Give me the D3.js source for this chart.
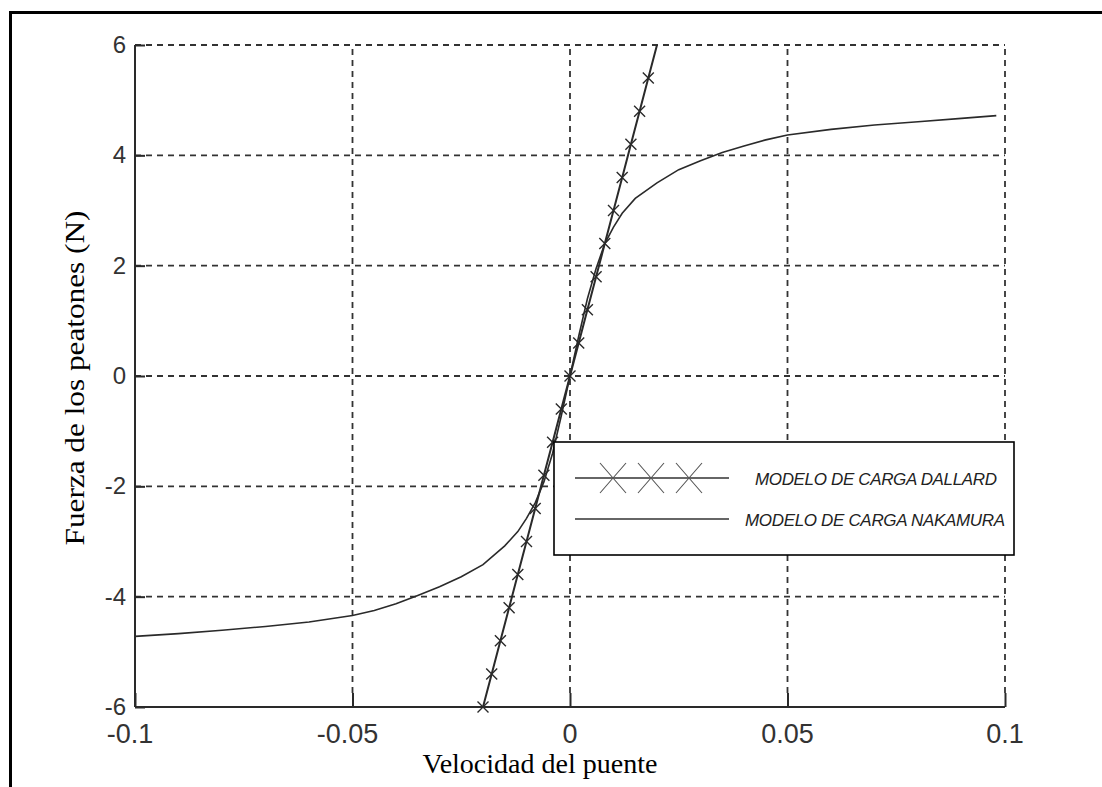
<!DOCTYPE html>
<html>
<head>
<meta charset="utf-8">
<script src="https://cdn.jsdelivr.net/npm/d3@7"></script>
<style>
  html, body { margin: 0; padding: 0; background: #fff; }
  svg { display: block; }
</style>
</head>
<body>
<svg id="chart" width="1102" height="787"></svg>
<script>
// ---- data ----
const xTicks = [-0.1, -0.05, 0, 0.05, 0.1];
const xTickLabels = ["-0.1", "-0.05", "0", "0.05", "0.1"];
const yTicks = [6, 4, 2, 0, -2, -4, -6];
const yTickLabels = ["6", "4", "2", "0", "-2", "-4", "-6"];

// Dallard load model (linear)
const dallardV = [-0.02, -0.018, -0.016, -0.014, -0.012, -0.01, -0.008, -0.006, -0.004, -0.002, 0,
                  0.002, 0.004, 0.006, 0.008, 0.01, 0.012, 0.014, 0.016, 0.018, 0.02];
const dallardF = [-6, -5.4, -4.8, -4.2, -3.6, -3, -2.4, -1.8, -1.2, -0.6, 0,
                  0.6, 1.2, 1.8, 2.4, 3, 3.6, 4.2, 4.8, 5.4, 6];

// Nakamura load model (saturating)
const nakamuraV = [-0.1, -0.09, -0.08, -0.07, -0.06, -0.05, -0.045, -0.04, -0.035, -0.03, -0.025, -0.02,
                   -0.015, -0.012, -0.01, -0.008, -0.006, -0.004, -0.002, 0,
                   0.002, 0.004, 0.006, 0.008, 0.01, 0.012, 0.015, 0.02, 0.025, 0.03, 0.035, 0.04,
                   0.045, 0.05, 0.06, 0.07, 0.08, 0.09, 0.098];
const nakamuraF = [-4.72, -4.67, -4.61, -4.54, -4.46, -4.34, -4.25, -4.13, -3.98, -3.82, -3.64, -3.42,
                   -3.08, -2.82, -2.58, -2.3, -1.92, -1.4, -0.72, 0,
                   0.72, 1.4, 1.95, 2.4, 2.7, 2.95, 3.22, 3.5, 3.74, 3.9, 4.05, 4.17,
                   4.28, 4.37, 4.47, 4.55, 4.61, 4.67, 4.72];

const legendLabels = ["MODELO DE CARGA DALLARD", "MODELO DE CARGA NAKAMURA"];
const xTitle = "Velocidad del puente";
const yTitle = "Fuerza de los peatones (N)";

(function () {
// ---- layout ----
const svg = d3.select("#chart");
const pL = 135, pR = 1005, pT = 45, pB = 707;
const x = d3.scaleLinear().domain([-0.1, 0.1]).range([pL, pR]);
const y = d3.scaleLinear().domain([-6, 6]).range([pB, pT]);
const ink = "#2a2a2a";

// outer frame (top and left edges)
svg.append("path")
  .attr("d", "M10.5,787 L10.5,12.5 L1102,12.5")
  .attr("fill", "none").attr("stroke", "#000").attr("stroke-width", 3);

// grid
const grid = svg.append("g").attr("stroke", "#333").attr("stroke-width", 1.8)
  .attr("stroke-dasharray", "6,5").attr("fill", "none");
grid.selectAll("line.gx").data(xTicks.filter(d => d !== -0.1)).join("line")
  .attr("x1", d => x(d)).attr("x2", d => x(d)).attr("y1", pB - 14).attr("y2", pT);
grid.selectAll("line.gy").data(yTicks.filter(d => d !== -6)).join("line")
  .attr("y1", d => y(d)).attr("y2", d => y(d)).attr("x1", pL).attr("x2", pR);

// axes (bottom + left), ticks inside
const xAxis = d3.axisBottom(x).tickValues(xTicks).tickSize(-14).tickFormat("");
const yAxis = d3.axisLeft(y).tickValues(yTicks).tickSize(-10).tickFormat("");
const gx = svg.append("g").attr("transform", `translate(0,${pB})`).call(xAxis);
const gy = svg.append("g").attr("transform", `translate(${pL},0)`).call(yAxis);
gx.select(".domain").attr("stroke", ink).attr("stroke-width", 2).attr("d", `M${pL},0H${pR}`);
gy.select(".domain").attr("stroke", ink).attr("stroke-width", 2).attr("d", `M0,${pB}V${pT}`);
[gx, gy].forEach(g => g.selectAll(".tick line").attr("stroke", ink).attr("stroke-width", 2));

// tick labels
svg.append("g").selectAll("text").data(xTicks).join("text")
  .attr("x", d => x(d) + (d < 0 ? -5 : 0)).attr("y", 743)
  .attr("text-anchor", "middle")
  .attr("font-family", "Liberation Sans, Arial, sans-serif")
  .attr("font-size", 27).attr("fill", "#333")
  .text((d, i) => xTickLabels[i]);
svg.append("g").selectAll("text").data(yTicks).join("text")
  .attr("x", 126).attr("y", d => y(d) + 8)
  .attr("text-anchor", "end")
  .attr("font-family", "Liberation Sans, Arial, sans-serif")
  .attr("font-size", 24).attr("fill", "#333")
  .text((d, i) => yTickLabels[i]);

// axis titles
svg.append("text")
  .attr("x", 540).attr("y", 773).attr("text-anchor", "middle")
  .attr("font-family", "Liberation Serif, Times New Roman, serif")
  .attr("font-size", 27).attr("fill", "#000")
  .attr("textLength", 235).attr("lengthAdjust", "spacingAndGlyphs")
  .text(xTitle);
svg.append("text")
  .attr("transform", "translate(84,378) rotate(-90)")
  .attr("text-anchor", "middle")
  .attr("font-family", "Liberation Serif, Times New Roman, serif")
  .attr("font-size", 28).attr("fill", "#000")
  .attr("textLength", 335).attr("lengthAdjust", "spacingAndGlyphs")
  .text(yTitle);

// Nakamura curve
const nakData = nakamuraV.map((v, i) => [v, nakamuraF[i]]);
svg.append("path").datum(nakData)
  .attr("fill", "none").attr("stroke", ink).attr("stroke-width", 1.6)
  .attr("d", d3.line().x(d => x(d[0])).y(d => y(d[1])));

// Dallard line + markers
const dalData = dallardV.map((v, i) => [v, dallardF[i]]);
svg.append("path").datum(dalData)
  .attr("fill", "none").attr("stroke", ink).attr("stroke-width", 2)
  .attr("d", d3.line().x(d => x(d[0])).y(d => y(d[1])));
const ms = 5.5;
svg.append("g").selectAll("path").data(dalData.slice(0, -1)).join("path")
  .attr("fill", "none").attr("stroke", ink).attr("stroke-width", 1.4)
  .attr("d", d => {
    const cx = x(d[0]), cy = y(d[1]);
    return `M${cx - ms},${cy - ms}L${cx + ms},${cy + ms}M${cx - ms},${cy + ms}L${cx + ms},${cy - ms}`;
  });

// legend
const lg = svg.append("g");
lg.append("rect").attr("x", 554).attr("y", 442).attr("width", 460).attr("height", 113)
  .attr("fill", "#fff").attr("stroke", "#000").attr("stroke-width", 1.6);
const rows = [478, 519];
lg.selectAll("line").data(rows).join("line")
  .attr("x1", 575).attr("x2", 729).attr("y1", d => d).attr("y2", d => d)
  .attr("stroke", "#333").attr("stroke-width", 1.3);
lg.selectAll("path").data([613, 651, 689]).join("path")
  .attr("fill", "none").attr("stroke", "#555").attr("stroke-width", 1.1)
  .attr("d", cx => `M${cx - 13},${rows[0] - 15}L${cx + 13},${rows[0] + 15}M${cx - 13},${rows[0] + 15}L${cx + 13},${rows[0] - 15}`);
const legX = [755, 745], legW = [242, 260];
lg.selectAll("text").data(legendLabels).join("text")
  .attr("x", (d, i) => legX[i]).attr("y", (d, i) => rows[i] + 7)
  .attr("font-family", "Liberation Sans, Arial, sans-serif")
  .attr("font-style", "italic").attr("font-size", 17).attr("fill", "#222")
  .attr("textLength", (d, i) => legW[i])
  .text(d => d);
})();
</script>
</body>
</html>
